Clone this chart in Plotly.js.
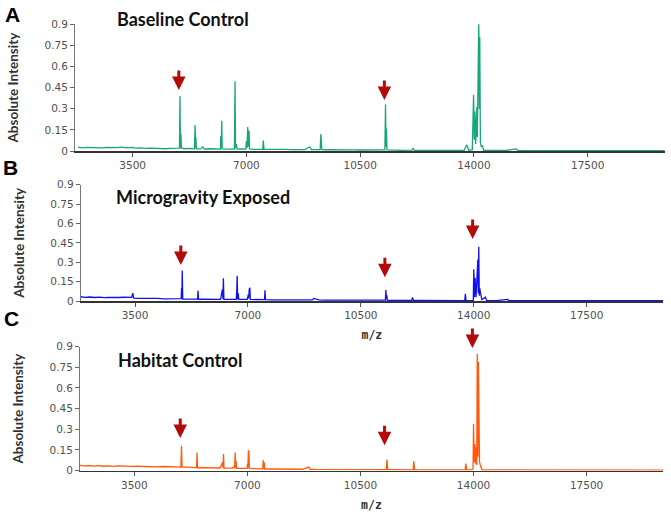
<!DOCTYPE html>
<html>
<head>
<meta charset="utf-8">
<script src="https://cdn.plot.ly/plotly-3.0.1.min.js"></script>
<style>
html,body{margin:0;padding:0;background:#fff;}
#chart{width:671px;height:513px;}
</style>
</head>
<body>
<div id="chart"></div>
<script>
// ---------- data ----------
const panelTitles = ["Baseline Control", "Microgravity Exposed", "Habitat Control"];
const panelLetters = ["A", "B", "C"];
const xTickVals = [3500, 7000, 10500, 14000, 17500];
const xTickText = ["3500", "7000", "10500", "14000", "17500"];
const yTickVals = [0, 0.15, 0.3, 0.45, 0.6, 0.75, 0.9];
const yTickText = ["0", "0.15", "0.3", "0.45", "0.6", "0.75", "0.9"];

// Baseline Control spectrum (m/z, intensity)
const mzA = [1820,1950,2100,2250,2400,2550,2700,2850,3000,3150,3300,3450,3600,3750,3900,4050,4200,4350,4500,4650,4800,4900,4940,4955,4970,4985,5000,5100,5250,5400,5420,5435,5445,5460,5600,5660,5700,5850,6000,6150,6200,6210,6225,6240,6255,6400,6550,6630,6650,6665,6690,6710,6850,6980,7000,7015,7040,7055,7080,7095,7250,7400,7500,7520,7540,7700,7850,8000,8200,8400,8600,8800,8950,9000,9150,9270,9290,9305,9320,9500,9700,9900,10100,10300,10500,10700,10900,11100,11260,11280,11295,11310,11325,11500,11800,12100,12130,12170,12500,12900,13300,13700,13780,13810,13840,13950,13990,14010,14030,14055,14090,14105,14120,14150,14165,14180,14200,14230,14260,14300,14700,15000,15300,15350,16000,17000,18000,19000,19870];
const intA = [0.028,0.022,0.026,0.024,0.027,0.022,0.025,0.023,0.024,0.027,0.022,0.026,0.020,0.022,0.018,0.020,0.017,0.019,0.016,0.018,0.017,0.020,0.020,0.39,0.020,0.12,0.020,0.016,0.018,0.015,0.185,0.020,0.10,0.015,0.015,0.030,0.014,0.016,0.013,0.015,0.014,0.105,0.020,0.215,0.015,0.013,0.012,0.014,0.495,0.020,0.050,0.013,0.015,0.014,0.070,0.020,0.170,0.030,0.145,0.015,0.012,0.013,0.012,0.075,0.012,0.011,0.012,0.010,0.012,0.010,0.011,0.010,0.030,0.010,0.010,0.010,0.120,0.040,0.010,0.009,0.010,0.008,0.009,0.008,0.007,0.008,0.007,0.008,0.008,0.330,0.030,0.160,0.008,0.006,0.005,0.006,0.020,0.005,0.005,0.005,0.004,0.004,0.045,0.020,0.005,0.010,0.400,0.080,0.280,0.050,0.315,0.100,0.300,0.915,0.300,0.810,0.060,0.030,0.040,0.005,0.004,0.005,0.015,0.004,0.003,0.003,0.003,0.003,0.003];

// Microgravity Exposed spectrum
const mzB = [1817,1950,2100,2250,2400,2550,2700,2850,3000,3150,3300,3400,3430,3460,3600,3800,4000,4200,4400,4600,4800,4930,4945,4955,4964,4980,5100,5250,5400,5440,5453,5470,5600,5800,6000,6150,6210,6225,6240,6255,6400,6550,6640,6655,6667,6680,6700,6715,6850,6980,7010,7025,7040,7060,7075,7250,7400,7515,7530,7545,7700,7900,8100,8300,8500,8700,9000,9040,9200,9400,9600,9800,10000,10300,10600,10900,11100,11260,11276,11290,11305,11320,11500,11800,12080,12100,12130,12400,12800,13200,13600,13720,13740,13760,13900,13985,14000,14020,14040,14070,14105,14125,14140,14155,14170,14185,14210,14250,14360,14400,14700,15050,15100,16000,17000,18000,19000,19865];
const intB = [0.033,0.028,0.031,0.027,0.030,0.026,0.028,0.025,0.027,0.029,0.025,0.028,0.060,0.022,0.020,0.021,0.018,0.020,0.017,0.019,0.016,0.018,0.100,0.018,0.235,0.015,0.015,0.016,0.014,0.014,0.080,0.013,0.014,0.013,0.012,0.013,0.090,0.015,0.175,0.013,0.012,0.011,0.012,0.090,0.195,0.015,0.060,0.012,0.011,0.012,0.050,0.020,0.090,0.103,0.012,0.011,0.010,0.010,0.083,0.010,0.009,0.010,0.008,0.009,0.008,0.008,0.008,0.020,0.008,0.007,0.007,0.006,0.007,0.006,0.006,0.006,0.005,0.006,0.085,0.015,0.045,0.005,0.005,0.004,0.004,0.028,0.004,0.004,0.004,0.003,0.003,0.003,0.055,0.005,0.003,0.005,0.245,0.030,0.180,0.030,0.210,0.320,0.060,0.420,0.040,0.100,0.060,0.010,0.030,0.003,0.003,0.012,0.003,0.003,0.003,0.003,0.003,0.003];

// Habitat Control spectrum
const mzC = [1817,1950,2100,2250,2400,2550,2700,2850,3000,3150,3300,3450,3600,3800,4000,4200,4400,4600,4800,4940,4960,4975,5100,5250,5400,5425,5440,5455,5600,5800,6000,6150,6230,6245,6260,6275,6400,6540,6590,6605,6620,6635,6650,6665,6680,6850,6990,7005,7015,7030,7045,7060,7250,7400,7475,7490,7505,7520,7535,7700,7900,8100,8300,8500,8700,8900,8940,9100,9300,9500,9800,10100,10400,10700,11000,11200,11300,11320,11340,11500,11800,12100,12130,12150,12175,12400,12800,13200,13600,13740,13760,13790,13900,13985,14000,14020,14040,14060,14080,14100,14115,14135,14150,14165,14185,14210,14260,14300,14600,15000,16000,17000,18000,19000,19865];
const intC = [0.038,0.033,0.036,0.032,0.035,0.031,0.034,0.030,0.033,0.031,0.034,0.030,0.031,0.028,0.030,0.027,0.029,0.026,0.028,0.025,0.180,0.024,0.024,0.022,0.023,0.021,0.130,0.020,0.021,0.019,0.020,0.018,0.060,0.018,0.120,0.018,0.017,0.018,0.030,0.016,0.130,0.018,0.070,0.016,0.016,0.015,0.016,0.050,0.018,0.145,0.140,0.015,0.013,0.013,0.012,0.075,0.015,0.060,0.011,0.011,0.010,0.011,0.009,0.010,0.009,0.025,0.009,0.008,0.008,0.007,0.008,0.007,0.007,0.006,0.007,0.006,0.006,0.080,0.006,0.006,0.005,0.005,0.005,0.067,0.005,0.004,0.004,0.004,0.004,0.004,0.050,0.004,0.004,0.010,0.340,0.060,0.190,0.050,0.170,0.040,0.847,0.100,0.790,0.120,0.060,0.040,0.005,0.004,0.004,0.004,0.003,0.003,0.003,0.003,0.003];

// red marker arrows: m/z position and arrow-tip intensity per panel
const arrowMz = [4920, 11245, 13965];
const arrowTipA = [0.433, 0.362, 0.902];
const arrowTipB = [0.279, 0.183, 0.48];
const arrowTipC = [0.236, 0.183, 0.89];

// ---------- styling ----------
const colors = ["#18a57b", "#1010f0", "#ff5a0a"];
const tickFont = {family: "DejaVu Sans, Verdana, sans-serif", size: 10.5, color: "#505050"};
const titleFont = {family: "Lato, Open Sans, sans-serif", size: 13.5, color: "#333333", weight: "bold"};

function xAxis(domain, range, anchor, withTitle) {
  const ax = {
    domain: domain, range: range, anchor: anchor,
    tickmode: "array", tickvals: xTickVals, ticktext: xTickText,
    ticks: "outside", ticklen: 4, tickwidth: 1, tickcolor: "#555",
    showline: true, linecolor: "#333", linewidth: 1.5, layer: "below traces",
    showgrid: false, zeroline: false,
    tickfont: tickFont
  };
  if (withTitle) {
    ax.title = {text: "m/z", standoff: 11,
      font: {family: "DejaVu Sans Mono, monospace", size: 11.5, color: "#333", weight: "bold"}};
  }
  return ax;
}
function yAxis(domain, anchor) {
  return {
    domain: domain, range: [0, 0.9], anchor: anchor,
    tickmode: "array", tickvals: yTickVals, ticktext: yTickText,
    ticks: "outside", ticklen: 4, tickwidth: 1, tickcolor: "#666",
    showline: true, linecolor: "#777", linewidth: 1, layer: "below traces",
    showgrid: false, zeroline: false,
    tickfont: tickFont,
    title: {text: "Absolute Intensity", font: titleFont, standoff: 22}
  };
}

const traces = [
  {x: mzA, y: intA, xaxis: "x", yaxis: "y", type: "scatter", mode: "lines",
   line: {color: colors[0], width: 1.3}, hoverinfo: "x+y", name: panelTitles[0]},
  {x: mzB, y: intB, xaxis: "x2", yaxis: "y2", type: "scatter", mode: "lines",
   line: {color: colors[1], width: 1.3}, hoverinfo: "x+y", name: panelTitles[1]},
  {x: mzC, y: intC, xaxis: "x3", yaxis: "y3", type: "scatter", mode: "lines",
   line: {color: colors[2], width: 1.3}, hoverinfo: "x+y", name: panelTitles[2]}
];

const annotations = [];
const tips = [arrowTipA, arrowTipB, arrowTipC];
const axIds = [["x", "y"], ["x2", "y2"], ["x3", "y3"]];
for (let p = 0; p < 3; p++) {
  for (let i = 0; i < arrowMz.length; i++) {
    annotations.push({
      x: arrowMz[i], y: tips[p][i], xref: axIds[p][0], yref: axIds[p][1],
      text: "", showarrow: true, ax: 0, ay: -21,
      arrowhead: 2, arrowsize: 0.9, arrowwidth: 3, arrowcolor: "#b40a0a",
      standoff: 0, startstandoff: 0
    });
  }
}
// panel titles and letters
const titlePos = [[183, 19], [203, 197], [180, 360]];
const letterPos = [[12, 14], [10, 167.5], [11, 318]];
for (let p = 0; p < 3; p++) {
  annotations.push({
    x: titlePos[p][0] / 671, y: 1 - titlePos[p][1] / 513, xref: "paper", yref: "paper",
    xanchor: "center", yanchor: "middle", showarrow: false, text: panelTitles[p],
    font: {family: "Lato, Open Sans, sans-serif", size: 18, color: "#111", weight: "bold"}
  });
  annotations.push({
    x: letterPos[p][0] / 671, y: 1 - letterPos[p][1] / 513, xref: "paper", yref: "paper",
    xanchor: "center", yanchor: "middle", showarrow: false, text: panelLetters[p],
    font: {family: "Liberation Sans, Arial, sans-serif", size: 21, color: "#000", weight: "bold"}
  });
}

const layout = {
  width: 671, height: 513,
  margin: {l: 0, r: 0, t: 0, b: 0},
  paper_bgcolor: "#fff", plot_bgcolor: "#fff",
  showlegend: false,
  xaxis: xAxis([75 / 671, 665 / 671], [1725, 19880], "y", false),
  yaxis: yAxis([1 - 151 / 513, 1 - 24.3 / 513], "x"),
  xaxis2: xAxis([80.7 / 671, 663 / 671], [1817, 19865], "y2", true),
  yaxis2: yAxis([1 - 301 / 513, 1 - 184.7 / 513], "x2"),
  xaxis3: xAxis([80 / 671, 663 / 671], [1817, 19865], "y3", true),
  yaxis3: yAxis([1 - 470.5 / 513, 1 - 346.7 / 513], "x3"),
  annotations: annotations
};

Plotly.newPlot("chart", traces, layout, {displayModeBar: false, staticPlot: true});
</script>
</body>
</html>
